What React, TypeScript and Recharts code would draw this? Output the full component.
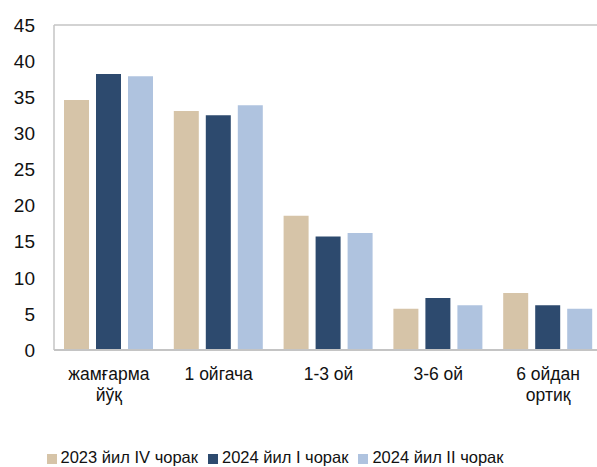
import React from 'react'
import { BarChart, Bar, XAxis, YAxis, Legend, ReferenceLine } from 'recharts'

const categories = ['жамғарма йўқ', '1 ойгача', '1-3 ой', '3-6 ой', '6 ойдан ортиқ']
const q4_2023 = [34.6, 33.1, 18.6, 5.7, 7.9]
const q1_2024 = [38.2, 32.5, 15.7, 7.2, 6.2]
const q2_2024 = [37.9, 33.9, 16.2, 6.2, 5.7]
const yTicks = [0, 5, 10, 15, 20, 25, 30, 35, 40, 45]

const seriesNames = ['2023 йил IV чорак', '2024 йил I чорак', '2024 йил II чорак']

const data = categories.map((name, i) => ({
  name,
  a: q4_2023[i],
  b: q1_2024[i],
  c: q2_2024[i],
}))

const font = '"Liberation Sans", Arial, sans-serif'

// long labels go on two lines like the original
const splitLabels: Record<string, string[]> = {
  'жамғарма йўқ': ['жамғарма', 'йўқ'],
  '6 ойдан ортиқ': ['6 ойдан', 'ортиқ'],
}

function CategoryTick(props: any) {
  const { x, y, payload } = props
  const lines = splitLabels[payload.value] || [payload.value]
  return (
    <text x={x} y={y} textAnchor="middle" fill="#111" fontSize={17.5} fontFamily={font}>
      {lines.map((l, i) => (
        <tspan key={i} x={x} dy={i === 0 ? 30 : 21}>
          {l}
        </tspan>
      ))}
    </text>
  )
}

export default function App() {
  return (
    <div style={{ position: 'absolute', left: 0, top: 0, width: 597, height: 467, overflow: 'hidden', background: '#fff' }}>
      <BarChart
        width={603}
        height={467}
        data={data}
        margin={{ top: 25, right: 0, left: 0, bottom: 0 }}
        barSize={25}
        barGap={7}
      >
        <ReferenceLine y={45} stroke="#C4C4C4" strokeWidth={1.5} />
        <XAxis
          dataKey="name"
          height={117}
          tickLine={false}
          tickSize={0}
          tickMargin={0}
          axisLine={{ stroke: '#C4C4C4', strokeWidth: 2 }}
          tick={<CategoryTick />}
          interval={0}
        />
        <YAxis
          width={54}
          domain={[0, 45]}
          ticks={yTicks}
          tickLine={false}
          tickSize={0}
          tickMargin={19}
          axisLine={{ stroke: '#C4C4C4', strokeWidth: 1.5 }}
          tick={{ fill: '#111', fontSize: 19, fontFamily: font }}
        />
        <Legend
          layout="horizontal"
          verticalAlign="middle"
          align="center"
          iconType="square"
          iconSize={10}
          wrapperStyle={{ top: 448, left: 40, width: 480, fontFamily: font, fontSize: 16.5 }}
          formatter={(v: string) => <span style={{ color: '#111' }}>{v}</span>}
        />
        <Bar dataKey="a" name={seriesNames[0]} fill="#D6C4A8" isAnimationActive={false} />
        <Bar dataKey="b" name={seriesNames[1]} fill="#2D4A6E" isAnimationActive={false} />
        <Bar dataKey="c" name={seriesNames[2]} fill="#AFC3DF" isAnimationActive={false} />
      </BarChart>
    </div>
  )
}
